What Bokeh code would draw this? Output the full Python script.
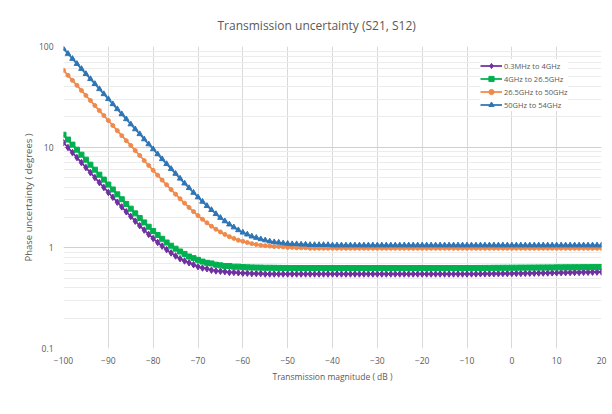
from bokeh.plotting import figure
from bokeh.models import FixedTicker, Legend, LegendItem, CustomJSTickFormatter
from bokeh.embed import file_html
from bokeh.resources import INLINE

# ---- data ----
TITLE = "Transmission uncertainty (S21, S12)"
X_LABEL = "Transmission magnitude ( dB )"
Y_LABEL = "Phase uncertainty ( degrees )"
SERIES_NAMES = ["0.3MHz to 4GHz", "4GHz to 26.5GHz", "26.5GHz to 50GHz", "50GHz to 54GHz"]

magnitude_db = list(range(-100, 21))

purple_vals = [
    11.1, 9.91, 8.83, 7.88, 7.03, 6.27, 5.59, 4.99, 4.45, 3.98,
    3.55, 3.18, 2.84, 2.55, 2.28, 2.05, 1.84, 1.66, 1.50, 1.36,
    1.24, 1.13, 1.04, 0.96, 0.89, 0.83, 0.78, 0.74, 0.71, 0.68,
    0.65, 0.63, 0.62, 0.60, 0.59, 0.585, 0.58, 0.57, 0.57, 0.565,
    0.56, 0.56, 0.555, 0.555, 0.555, 0.55, 0.55, 0.55, 0.55, 0.55,
    0.55, 0.55, 0.55, 0.55, 0.55, 0.55, 0.55, 0.55, 0.55, 0.55,
    0.55, 0.55, 0.55, 0.55, 0.55, 0.55, 0.55, 0.55, 0.55, 0.55,
    0.55, 0.55, 0.55, 0.55, 0.55, 0.55, 0.55, 0.55, 0.55, 0.55,
    0.55, 0.55, 0.55, 0.55, 0.55, 0.55, 0.55, 0.55, 0.55, 0.55,
    0.550, 0.551, 0.551, 0.552, 0.552, 0.553, 0.553, 0.554, 0.555, 0.555,
    0.556, 0.557, 0.557, 0.558, 0.559, 0.560, 0.561, 0.562, 0.563, 0.564,
    0.565, 0.566, 0.567, 0.568, 0.569, 0.570, 0.571, 0.572, 0.573, 0.574,
    0.575,
]

green_vals = [
    13.3, 11.9, 10.6, 9.44, 8.42, 7.51, 6.70, 5.98, 5.33, 4.76,
    4.25, 3.80, 3.40, 3.04, 2.73, 2.45, 2.20, 1.98, 1.79, 1.62,
    1.47, 1.34, 1.23, 1.13, 1.05, 0.98, 0.92, 0.87, 0.82, 0.79,
    0.76, 0.73, 0.71, 0.70, 0.68, 0.67, 0.66, 0.66, 0.65, 0.65,
    0.644, 0.641, 0.639, 0.637, 0.636, 0.634, 0.634, 0.633, 0.632, 0.631,
    0.63, 0.63, 0.63, 0.63, 0.63, 0.63, 0.63, 0.63, 0.63, 0.63,
    0.63, 0.63, 0.63, 0.63, 0.63, 0.63, 0.63, 0.63, 0.63, 0.63,
    0.63, 0.63, 0.63, 0.63, 0.63, 0.63, 0.63, 0.63, 0.63, 0.63,
    0.63, 0.63, 0.63, 0.63, 0.63, 0.63, 0.63, 0.63, 0.63, 0.63,
    0.630, 0.630, 0.631, 0.631, 0.632, 0.632, 0.633, 0.633, 0.634, 0.634,
    0.635, 0.635, 0.636, 0.636, 0.637, 0.637, 0.638, 0.638, 0.639, 0.639,
    0.640, 0.640, 0.641, 0.641, 0.642, 0.642, 0.643, 0.643, 0.644, 0.644,
    0.645,
]

orange_vals = [
    58.0, 51.7, 46.1, 41.1, 36.6, 32.6, 29.1, 25.9, 23.1, 20.6,
    18.4, 16.4, 14.6, 13.0, 11.6, 10.4, 9.25, 8.26, 7.37, 6.58,
    5.89, 5.27, 4.71, 4.23, 3.79, 3.41, 3.07, 2.78, 2.52, 2.29,
    2.09, 1.92, 1.77, 1.64, 1.53, 1.44, 1.36, 1.29, 1.24, 1.19,
    1.16, 1.13, 1.10, 1.08, 1.06, 1.05, 1.04, 1.03, 1.03, 1.02,
    1.01, 1.01, 1.00, 1.00, 1.00, 0.99, 0.99, 0.99, 0.99, 0.99,
    0.99, 0.99, 0.99, 0.99, 0.99, 0.99, 0.99, 0.99, 0.99, 0.99,
    0.99, 0.99, 0.99, 0.99, 0.99, 0.99, 0.99, 0.99, 0.99, 0.99,
    0.99, 0.99, 0.99, 0.99, 0.99, 0.99, 0.99, 0.99, 0.99, 0.99,
    0.99, 0.99, 0.99, 0.99, 0.99, 0.99, 0.99, 0.99, 0.99, 0.99,
    0.99, 0.99, 0.99, 0.99, 0.99, 0.99, 0.99, 0.99, 0.99, 0.99,
    0.99, 0.99, 0.99, 0.99, 0.99, 0.99, 0.99, 0.99, 0.99, 0.99,
    0.99,
]

blue_vals = [
    95.0, 84.7, 75.5, 67.3, 60.0, 53.4, 47.6, 42.5, 37.8, 33.7,
    30.1, 26.8, 23.9, 21.3, 19.0, 16.9, 15.1, 13.5, 12.0, 10.7,
    9.56, 8.53, 7.62, 6.81, 6.09, 5.45, 4.88, 4.37, 3.93, 3.53,
    3.18, 2.88, 2.61, 2.38, 2.17, 1.99, 1.84, 1.71, 1.60, 1.50,
    1.42, 1.36, 1.30, 1.26, 1.22, 1.19, 1.16, 1.14, 1.13, 1.11,
    1.10, 1.09, 1.09, 1.08, 1.08, 1.07, 1.07, 1.07, 1.07, 1.07,
    1.06, 1.06, 1.06, 1.06, 1.06, 1.06, 1.06, 1.06, 1.06, 1.06,
    1.06, 1.06, 1.06, 1.06, 1.06, 1.06, 1.06, 1.06, 1.06, 1.06,
    1.06, 1.06, 1.06, 1.06, 1.06, 1.06, 1.06, 1.06, 1.06, 1.06,
    1.06, 1.06, 1.06, 1.06, 1.06, 1.06, 1.06, 1.06, 1.06, 1.06,
    1.06, 1.06, 1.06, 1.06, 1.06, 1.06, 1.06, 1.06, 1.06, 1.06,
    1.06, 1.06, 1.06, 1.06, 1.06, 1.06, 1.06, 1.06, 1.06, 1.06,
    1.06,
]

X_TICKS = [-100, -90, -80, -70, -60, -50, -40, -30, -20, -10, 0, 10, 20]
Y_TICKS = [0.1, 1, 10, 100]
Y_MINOR = [m * d for d in (0.1, 1, 10) for m in range(2, 10)]

COLORS = ["#7030A0", "#00B050", "#F08A4B", "#2E75B6"]
MARKERS = ["diamond", "square", "circle", "triangle"]
MSIZES = [6.5, 5, 4, 5.5]

FONT = "Open Sans"
TXT = "#595959"

p = figure(width=612, height=414, y_axis_type="log",
           x_range=(-100, 20), y_range=(0.1, 100),
           output_backend="svg", toolbar_location=None,
           min_border_left=63, min_border_right=11,
           min_border_top=46, min_border_bottom=66,
           background_fill_color="white", border_fill_color="white")

p.title.text = TITLE
p.title.align = "left"
p.title.offset = 154
p.title.text_font = FONT
p.title.text_font_size = "12px"
p.title.text_font_style = "normal"
p.title.text_color = TXT
p.title.standoff = 26

p.outline_line_color = None

p.xgrid.ticker = FixedTicker(ticks=X_TICKS)
p.xgrid.grid_line_color = "#d9d9d9"
p.ygrid.ticker = FixedTicker(ticks=Y_TICKS, minor_ticks=Y_MINOR)
p.ygrid.grid_line_color = "#d0d0d0"
p.ygrid.minor_grid_line_color = "#ececec"

p.xaxis.ticker = FixedTicker(ticks=X_TICKS)
p.yaxis.ticker = FixedTicker(ticks=Y_TICKS)
p.yaxis.formatter = CustomJSTickFormatter(code="return tick < 1 ? tick.toFixed(1) : tick.toFixed(0);")

for ax in (p.xaxis[0], p.yaxis[0]):
    ax.axis_line_color = None
    ax.major_tick_line_color = None
    ax.minor_tick_line_color = None
    ax.major_label_text_font = FONT
    ax.major_label_text_font_size = "8.5px"
    ax.major_label_text_color = TXT
    ax.axis_label_text_font = FONT
    ax.axis_label_text_font_style = "normal"
    ax.axis_label_text_color = TXT

p.xaxis.axis_label_text_font_size = "8.5px"
p.yaxis.axis_label_text_font_size = "9.5px"
p.xaxis.axis_label = X_LABEL
p.yaxis.axis_label = Y_LABEL
p.xaxis.major_label_standoff = 2
p.xaxis.axis_label_standoff = 4
p.yaxis.major_label_standoff = 4
p.yaxis.axis_label_standoff = 1

items = []
for name, vals, col, mk, ms in zip(SERIES_NAMES, [purple_vals, green_vals, orange_vals, blue_vals],
                                   COLORS, MARKERS, MSIZES):
    xs = magnitude_db[:len(vals)]
    lr = p.line(xs, vals, line_color=col, line_width=1.75)
    sr = p.scatter(xs, vals, marker=mk, size=ms, fill_color=col, line_color=col)
    items.append(LegendItem(label=name, renderers=[lr, sr]))

legend = Legend(items=items, location=(417, 237))
legend.label_text_font = FONT
legend.label_text_font_size = "7.5px"
legend.label_text_color = TXT
legend.glyph_width = 22
legend.glyph_height = 13
legend.label_height = 13
legend.spacing = 0
legend.padding = 6
legend.margin = 0
legend.label_standoff = 2
legend.border_line_color = None
legend.background_fill_color = "white"
legend.background_fill_alpha = 1
p.add_layout(legend)

open("out.html", "w").write(file_html(p, INLINE))
